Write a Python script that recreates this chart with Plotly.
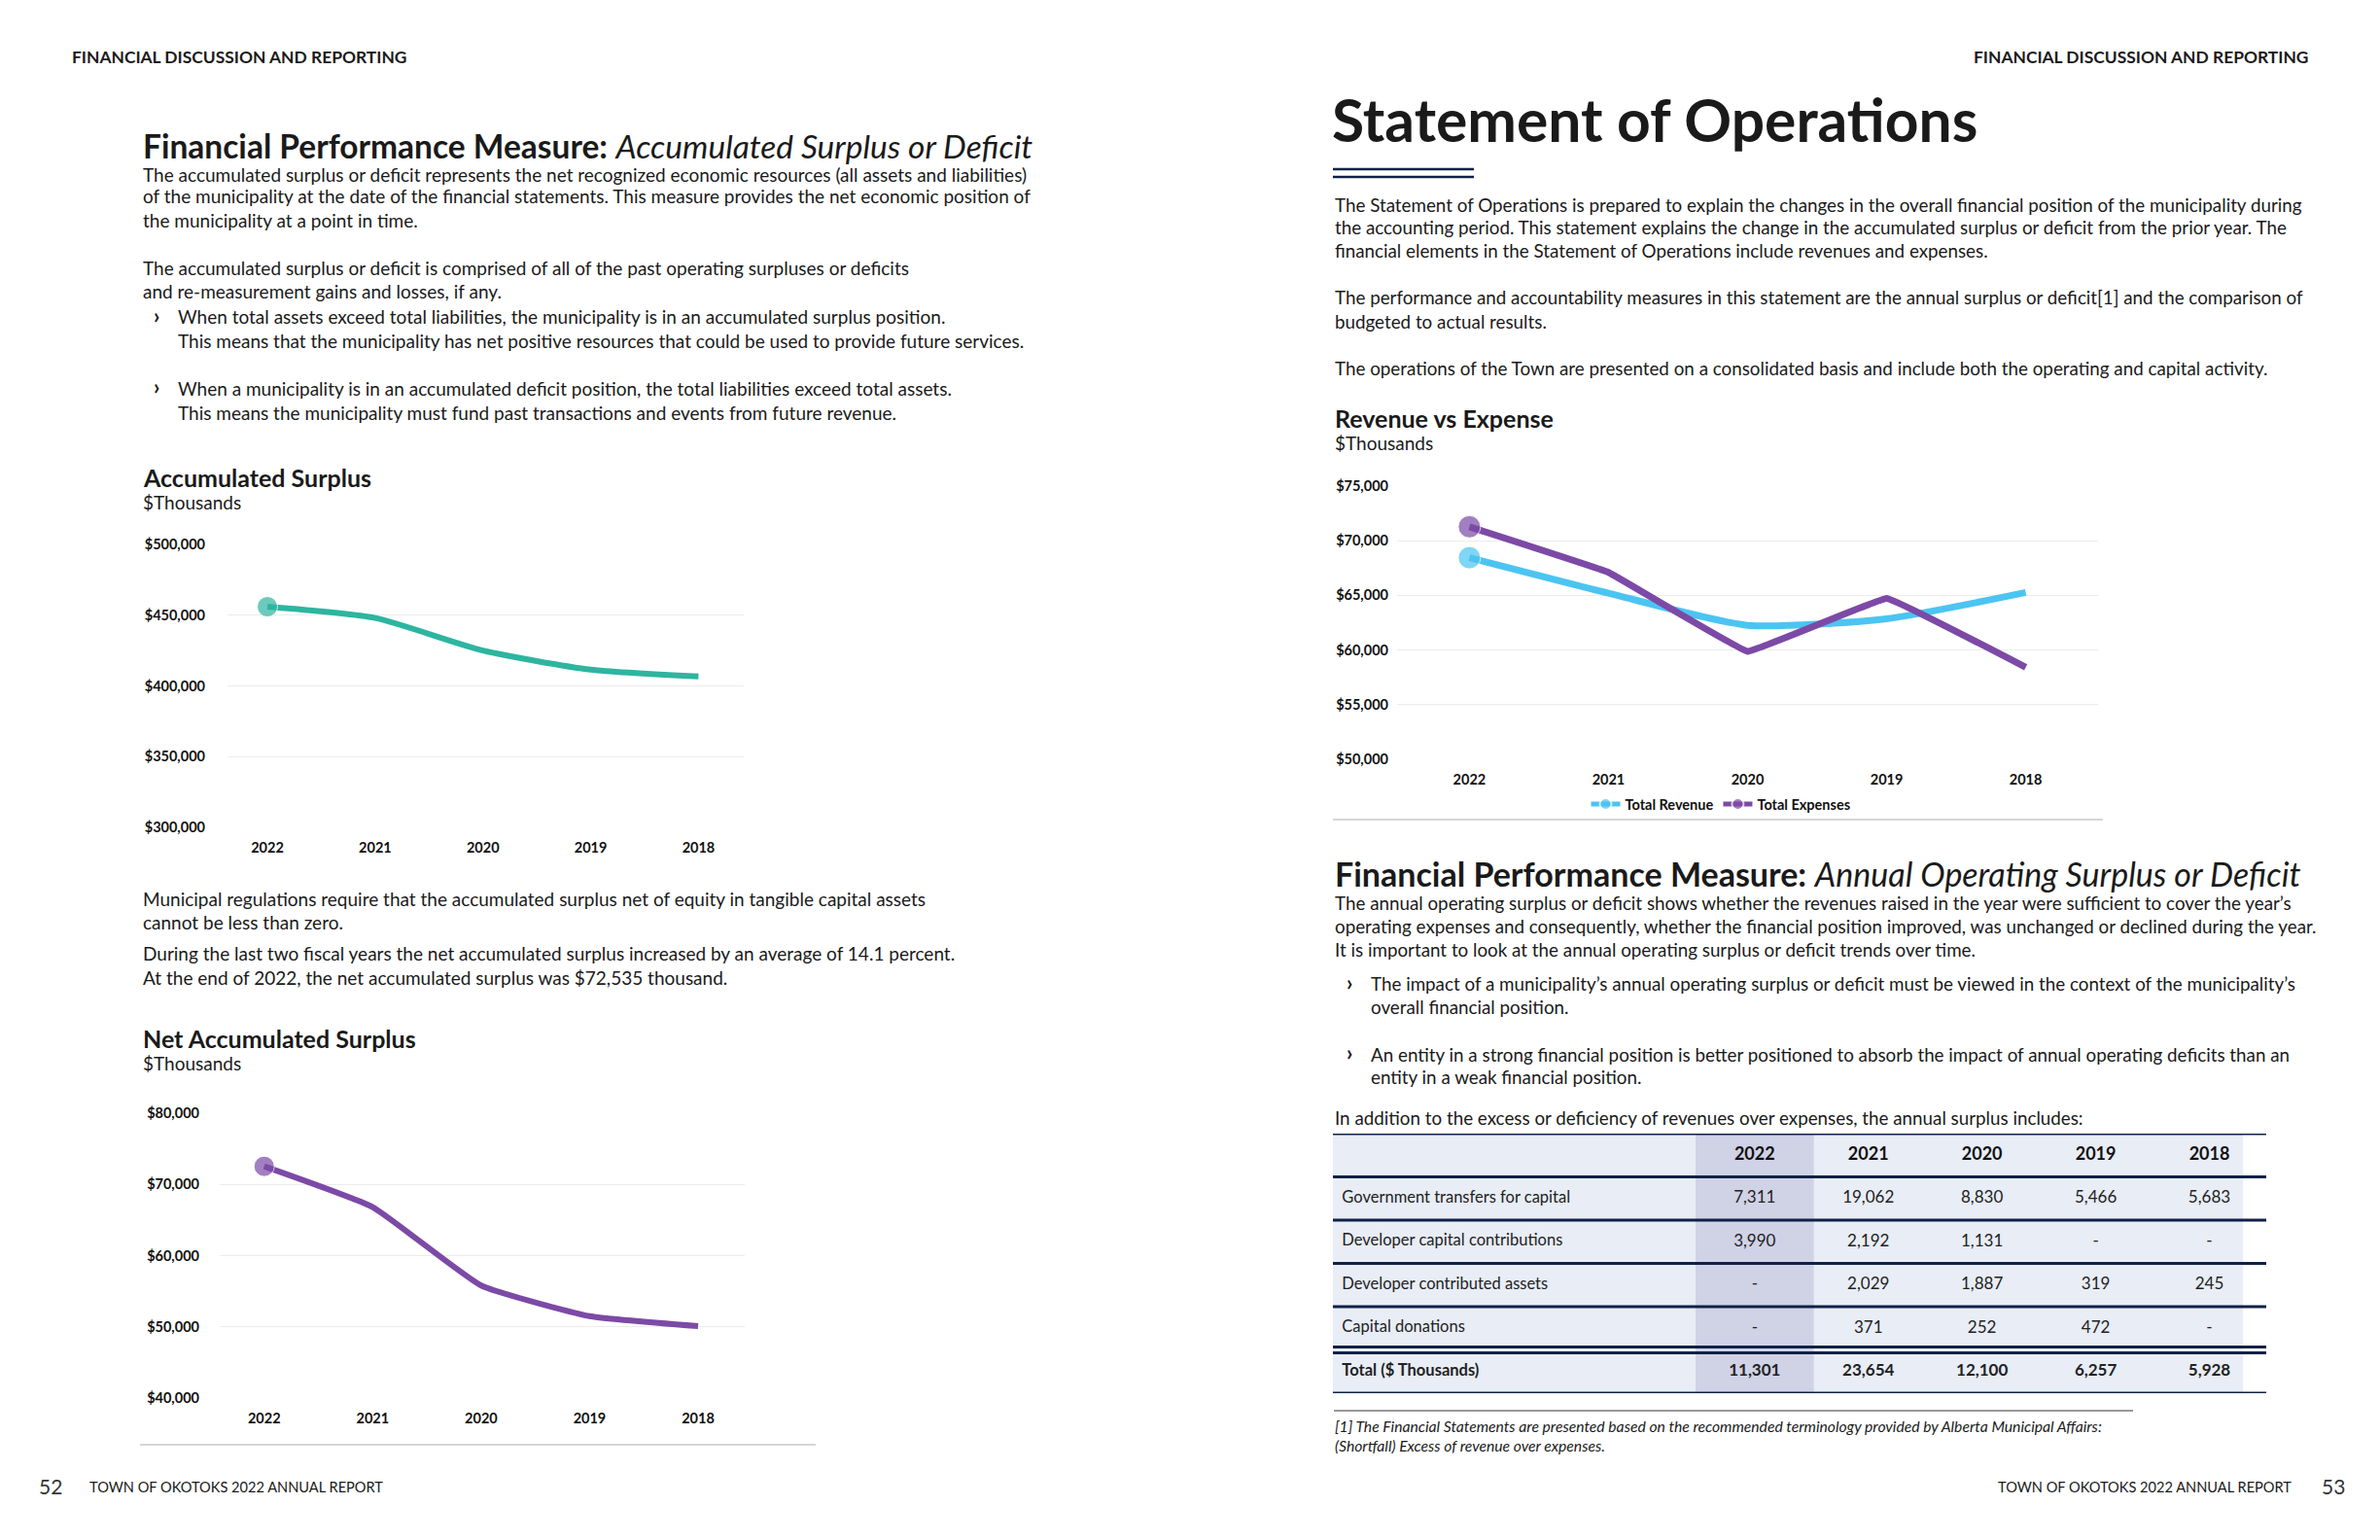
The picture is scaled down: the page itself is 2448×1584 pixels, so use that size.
import plotly.graph_objects as go

# ---------------- data ----------------
years = ["2022", "2021", "2020", "2019", "2018"]
accumulated_surplus = [456000, 448000, 425000, 411500, 406700]
net_accumulated_surplus = [72535, 66800, 55800, 51500, 50100]
total_revenue = [68450, 65200, 62260, 62860, 65270]
total_expenses = [71280, 67110, 59880, 64730, 58420]

table_years = [2022, 2021, 2020, 2019, 2018]
row_labels = ["Government transfers for capital", "Developer capital contributions",
              "Developer contributed assets", "Capital donations", "Total ($ Thousands)"]
gov_transfers = [7311, 19062, 8830, 5466, 5683]
dev_capital = [3990, 2192, 1131, None, None]
dev_assets = [None, 2029, 1887, 319, 245]
cap_donations = [None, 371, 252, 472, None]
totals = [11301, 23654, 12100, 6257, 5928]

# ---------------- layout helpers ----------------
W, H = 2448, 1584
FONT = "Lato"
INK = "#1a1a1a"
TEAL = "#2db5a0"
PURPLE = "#7c4aa6"
BLUE = "#4cc4f2"
NAVY = "#0f2146"
GRID = "#ececec"
BODY = 19


def px(x):
    return x / W


def py(y):
    return 1 - y / H


annotations = []


def text(x, y, s, size=BODY, anchor="left", color=INK, yanchor="middle"):
    annotations.append(dict(x=px(x), y=py(y), xref="paper", yref="paper", text=s,
                            showarrow=False, xanchor=anchor, yanchor=yanchor,
                            font=dict(family=FONT, size=size, color=color)))


shapes = []


def hline(x0, x1, y, color, width):
    shapes.append(dict(type="line", xref="paper", yref="paper", x0=px(x0), x1=px(x1),
                       y0=py(y), y1=py(y), line=dict(color=color, width=width)))


fig = go.Figure()

# ---------------- chart 1: Accumulated Surplus ----------------
fig.add_trace(go.Scatter(x=years, y=accumulated_surplus, mode="lines+markers",
                         line=dict(color=TEAL, width=6, shape="spline", smoothing=0.6),
                         marker=dict(size=[21, 0, 0, 0, 0], color=TEAL),
                         xaxis="x", yaxis="y", showlegend=False, hoverinfo="skip"))
# ---------------- chart 2: Net Accumulated Surplus ----------------
fig.add_trace(go.Scatter(x=years, y=net_accumulated_surplus, mode="lines+markers",
                         line=dict(color=PURPLE, width=6, shape="spline", smoothing=0.4),
                         marker=dict(size=[21, 0, 0, 0, 0], color=PURPLE),
                         xaxis="x2", yaxis="y2", showlegend=False, hoverinfo="skip"))
# ---------------- chart 3: Revenue vs Expense ----------------
fig.add_trace(go.Scatter(x=years, y=total_revenue, mode="lines+markers", name="Total Revenue",
                         line=dict(color=BLUE, width=7, shape="spline", smoothing=0.6),
                         marker=dict(size=[23, 0, 0, 0, 0], color=BLUE),
                         xaxis="x3", yaxis="y3", legend="legend", hoverinfo="skip"))
fig.add_trace(go.Scatter(x=years, y=total_expenses, mode="lines+markers", name="Total Expenses",
                         line=dict(color=PURPLE, width=7, shape="spline", smoothing=0.15),
                         marker=dict(size=[23, 0, 0, 0, 0], color=PURPLE),
                         xaxis="x3", yaxis="y3", legend="legend", hoverinfo="skip"))

# ---------------- table (on hidden axes x4/y4) ----------------
cat_rows = [" "] + row_labels


def fmt(v, bold=False):
    s = "-" if v is None else f"{v:,}"
    return f"<b>{s}</b>" if bold else s


label_x = 2025.63
fig.add_trace(go.Scatter(x=[label_x] * len(row_labels), y=row_labels,
                         text=row_labels[:-1] + [f"<b>{row_labels[-1]}</b>"],
                         mode="text", textposition="middle right",
                         textfont=dict(family=FONT, size=16.5, color="#222222"),
                         xaxis="x4", yaxis="y4", showlegend=False, hoverinfo="skip"))
fig.add_trace(go.Scatter(x=table_years, y=[" "] * len(table_years),
                         text=[f"<b>{y}</b>" for y in table_years], mode="text",
                         textfont=dict(family=FONT, size=18, color="#111111"),
                         xaxis="x4", yaxis="y4", showlegend=False, hoverinfo="skip"))
for label, series, bold in [(row_labels[0], gov_transfers, False), (row_labels[1], dev_capital, False),
                            (row_labels[2], dev_assets, False), (row_labels[3], cap_donations, False),
                            (row_labels[4], totals, True)]:
    fig.add_trace(go.Scatter(x=table_years, y=[label] * len(table_years),
                             text=[fmt(v, bold) for v in series], mode="text",
                             textfont=dict(family=FONT, size=17, color="#222222"),
                             xaxis="x4", yaxis="y4", showlegend=False, hoverinfo="skip"))

# table background + 2022 band
shapes.append(dict(type="rect", xref="x4 domain", yref="y4", x0=0, x1=0.975, y0=-0.5, y1=5.5,
                   fillcolor="#e8edf6", line=dict(width=0), layer="below"))
shapes.append(dict(type="rect", xref="x4", yref="y4", x0=2022.52, x1=2021.48, y0=-0.5, y1=5.5,
                   fillcolor="#d0d2e6", line=dict(width=0), layer="below"))
for yv in [-0.5, 0.5, 1.5, 2.5, 3.5, 4.43, 4.57, 5.5]:
    shapes.append(dict(type="line", xref="x4 domain", yref="y4", x0=0, x1=1, y0=yv, y1=yv,
                       line=dict(color=NAVY, width=3)))

# ---------------- axes ----------------
tickfont = dict(family=FONT, size=14.5, color="#111111", weight="bold")


def xcat(domain, rng, anchor):
    return dict(domain=[px(domain[0]), px(domain[1])], type="category", range=rng,
                anchor=anchor, showgrid=False, zeroline=False, showline=False, ticks="",
                tickfont=tickfont, ticklabelstandoff=10, automargin=False, fixedrange=True)


def ynum(domain_px, rng, dtick, standoff, anchor):
    return dict(domain=[py(domain_px[1]), py(domain_px[0])], range=rng, dtick=dtick,
                anchor=anchor, tickprefix="$", tickformat=",", showgrid=True, gridcolor=GRID,
                gridwidth=1, zeroline=False, showline=False, ticks="", tickfont=tickfont,
                ticklabelstandoff=standoff, automargin=False, fixedrange=True)


layout = dict(
    width=W, height=H, autosize=False,
    margin=dict(l=0, r=0, t=0, b=0, pad=0, autoexpand=False),
    paper_bgcolor="white", plot_bgcolor="rgba(0,0,0,0)",
    font=dict(family=FONT, color=INK),
    xaxis=xcat((234, 765), [-0.37, 4.42], "y"),
    yaxis=ynum((560, 851), [300000, 500000], 50000, 22, "x"),
    xaxis2=xcat((226, 766), [-0.41, 4.43], "y2"),
    yaxis2=ynum((1145, 1438), [40000, 80000], 10000, 20, "x2"),
    xaxis3=xcat((1437, 2158), [-0.52, 4.52], "y3"),
    yaxis3=ynum((500, 781), [50000, 75000], 5000, 8, "x3"),
    xaxis4=dict(domain=[px(1371), px(2331)], range=[2025.71, 2017.50], visible=False,
                anchor="y4", fixedrange=True),
    yaxis4=dict(domain=[py(1433), py(1166)], type="category", categoryorder="array",
                categoryarray=cat_rows, range=[5.5, -0.5], visible=False, anchor="x4",
                fixedrange=True),
    legend=dict(orientation="h", x=px(1770), y=py(827), xanchor="center", yanchor="middle",
                font=dict(family=FONT, size=14.5, color="#111111", weight="bold"),
                itemsizing="constant", itemwidth=30, tracegroupgap=0,
                bgcolor="rgba(0,0,0,0)"),
    showlegend=True,
)

# ---------------- text: left page ----------------
text(72, 59, "<b>FINANCIAL DISCUSSION AND REPORTING</b>", 17.4)
text(145, 150, "<b>Financial Performance Measure:</b> <i>Accumulated Surplus or Deficit</i>", 33.5)
left_lines = [
    (179, "The accumulated surplus or deficit represents the net recognized economic resources (all assets and liabilities)"),
    (202, "of the municipality at the date of the financial statements. This measure provides the net economic position of"),
    (226, "the municipality at a point in time."),
    (275, "The accumulated surplus or deficit is comprised of all of the past operating surpluses or deficits"),
    (299, "and re-measurement gains and losses, if any."),
]
for y, s in left_lines:
    text(145, y, s)
for y, s in [(326, "When total assets exceed total liabilities, the municipality is in an accumulated surplus position."),
             (351, "This means that the municipality has net positive resources that could be used to provide future services."),
             (399, "When a municipality is in an accumulated deficit position, the total liabilities exceed total assets."),
             (424, "This means the municipality must fund past transactions and events from future revenue.")]:
    text(181, y, s)
text(156, 324, "<b>›</b>", 22)
text(156, 397, "<b>›</b>", 22)

text(145, 491, "<b>Accumulated Surplus</b>", 25)
text(145, 517, "$Thousands", 19)

for y, s in [(924, "Municipal regulations require that the accumulated surplus net of equity in tangible capital assets"),
             (948, "cannot be less than zero."),
             (981, "During the last two fiscal years the net accumulated surplus increased by an average of 14.1 percent."),
             (1005, "At the end of 2022, the net accumulated surplus was $72,535 thousand.")]:
    text(145, y, s)

text(145, 1068, "<b>Net Accumulated Surplus</b>", 25)
text(145, 1093, "$Thousands", 19)
hline(144, 839, 1486, "#c8c8c8", 1.5)

text(52, 1528, "52", 21, anchor="center", color="#333333")
text(90, 1529, "TOWN OF OKOTOKS 2022 ANNUAL REPORT", 14.6)

# ---------------- text: right page ----------------
text(2376, 59, "<b>FINANCIAL DISCUSSION AND REPORTING</b>", 17.4, anchor="right")
text(1368, 123, "<b>Statement of Operations</b>", 60.5)
hline(1371, 1516, 174, NAVY, 2.5)
hline(1371, 1516, 182, NAVY, 2.5)

for y, s in [(210, "The Statement of Operations is prepared to explain the changes in the overall financial position of the municipality during"),
             (234, "the accounting period. This statement explains the change in the accumulated surplus or deficit from the prior year. The"),
             (258, "financial elements in the Statement of Operations include revenues and expenses."),
             (306, "The performance and accountability measures in this statement are the annual surplus or deficit[1] and the comparison of"),
             (330, "budgeted to actual results."),
             (378, "The operations of the Town are presented on a consolidated basis and include both the operating and capital activity.")]:
    text(1371, y, s, 18.8)

text(1371, 430, "<b>Revenue vs Expense</b>", 25)
text(1371, 456, "$Thousands", 19)
hline(1371, 2163, 843, "#c8c8c8", 1.5)

text(1371, 898, "<b>Financial Performance Measure:</b> <i>Annual Operating Surplus or Deficit</i>", 34)
for y, s in [(928, "The annual operating surplus or deficit shows whether the revenues raised in the year were sufficient to cover the year’s"),
             (952, "operating expenses and consequently, whether the financial position improved, was unchanged or declined during the year."),
             (976, "It is important to look at the annual operating surplus or deficit trends over time.")]:
    text(1371, y, s, 18.8)
for y, s in [(1012, "The impact of a municipality’s annual operating surplus or deficit must be viewed in the context of the municipality’s"),
             (1035, "overall financial position."),
             (1084, "An entity in a strong financial position is better positioned to absorb the impact of annual operating deficits than an"),
             (1107, "entity in a weak financial position.")]:
    text(1408, y, s, 18.8)
text(1383, 1010, "<b>›</b>", 22)
text(1383, 1082, "<b>›</b>", 22)
text(1371, 1149, "In addition to the excess or deficiency of revenues over expenses, the annual surplus includes:", 18.8)

hline(1372, 2194, 1451, "#333333", 1)
text(1371, 1467, "<i>[1] The Financial Statements are presented based on the recommended terminology provided by Alberta Municipal Affairs:</i>", 15.7)
text(1371, 1487, "<i>(Shortfall) Excess of revenue over expenses.</i>", 15.7)

text(2359, 1529, "TOWN OF OKOTOKS 2022 ANNUAL REPORT", 14.6, anchor="right")
text(2400, 1528, "53", 21, anchor="center", color="#333333")

layout["annotations"] = annotations
layout["shapes"] = shapes
fig.update_layout(**layout)

fig.write_html("out.html", config={"displayModeBar": False},
               post_script="document.body.style.margin='0';document.body.style.overflow='hidden';")
